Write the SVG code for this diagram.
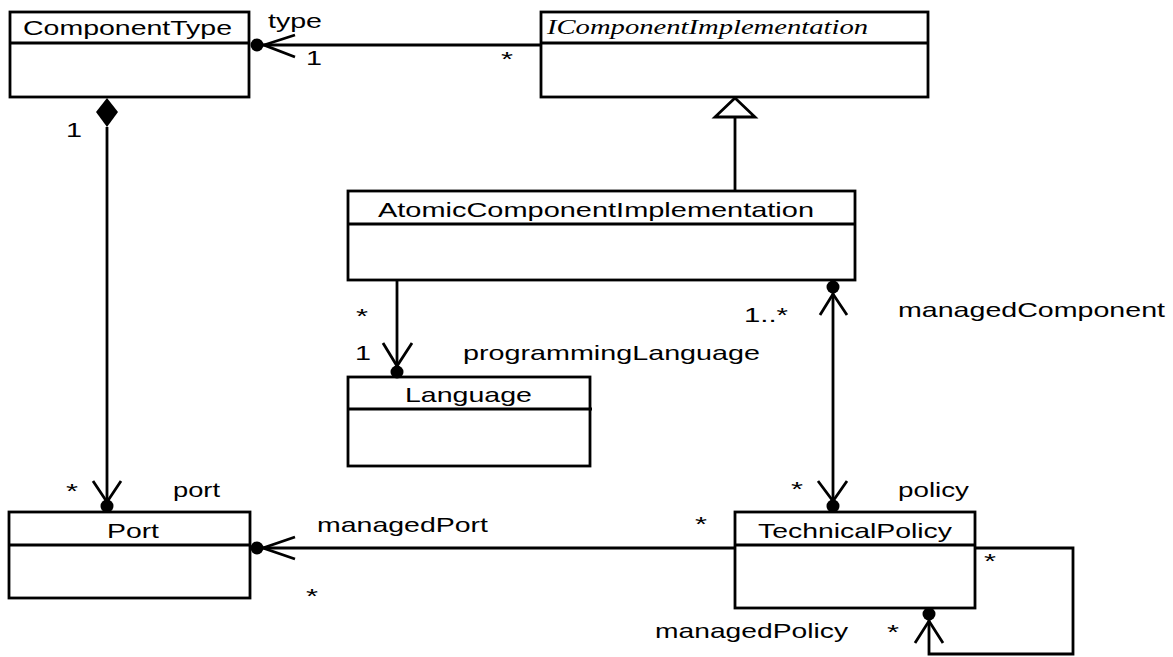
<svg xmlns="http://www.w3.org/2000/svg" width="1173" height="657" viewBox="0 0 1173 657">
<style>
.box{fill:#fff;stroke:#000;stroke-width:2.8}
.div{stroke:#000;stroke-width:2.8}
.ln{fill:none;stroke:#000;stroke-width:2.8}
.dot{fill:#000}
.t{font-family:"Liberation Sans",Arial,sans-serif;font-size:21px;fill:#000}
.ti{font-family:"Liberation Serif","Times New Roman",serif;font-style:italic;font-size:20px;fill:#000}
</style>
<rect width="1173" height="657" fill="#fff"/>
<g id="ComponentType">
<rect class="box" x="10" y="12" width="239" height="85"/>
<line class="div" x1="10" y1="43" x2="249" y2="43"/>
<text class="t" x="23" y="35" textLength="209" lengthAdjust="spacingAndGlyphs">ComponentType</text>
</g>
<g id="IComponentImplementation">
<rect class="box" x="541" y="12" width="387" height="85"/>
<line class="div" x1="541" y1="43" x2="928" y2="43"/>
<text class="ti" x="547" y="34" textLength="321" lengthAdjust="spacingAndGlyphs">IComponentImplementation</text>
</g>
<g id="AtomicComponentImplementation">
<rect class="box" x="348" y="191" width="507" height="89"/>
<line class="div" x1="348" y1="224" x2="856" y2="224"/>
<text class="t" x="378" y="217" textLength="436" lengthAdjust="spacingAndGlyphs">AtomicComponentImplementation</text>
</g>
<g id="Language">
<rect class="box" x="348" y="377" width="242" height="89"/>
<line class="div" x1="348" y1="409" x2="592" y2="409"/>
<text class="t" x="405" y="402" textLength="127" lengthAdjust="spacingAndGlyphs">Language</text>
</g>
<g id="Port">
<rect class="box" x="9" y="512" width="241" height="86"/>
<line class="div" x1="9" y1="545" x2="250" y2="545"/>
<text class="t" x="107" y="538" textLength="52" lengthAdjust="spacingAndGlyphs">Port</text>
</g>
<g id="TechnicalPolicy">
<rect class="box" x="735" y="512" width="240" height="96"/>
<line class="div" x1="735" y1="545" x2="976" y2="545"/>
<text class="t" x="758" y="538" textLength="194" lengthAdjust="spacingAndGlyphs">TechnicalPolicy</text>
</g>
<g id="connectors">
<line class="ln" x1="541" y1="45" x2="259" y2="45"/>
<circle class="dot" cx="257" cy="45" r="6.5"/>
<polyline class="ln" points="295,35 264,45 295,57"/>
<polygon points="107,98 118,112 107,127 96,112" fill="#000"/>
<line class="ln" x1="107" y1="127" x2="107" y2="504"/>
<circle class="dot" cx="107" cy="506" r="6.5"/>
<polyline class="ln" points="93,481 107,502 121,481"/>
<line class="ln" x1="735" y1="117" x2="735" y2="191"/>
<polygon points="735,98 755,117 715,117" fill="#fff" stroke="#000" stroke-width="2.8"/>
<line class="ln" x1="397" y1="280" x2="397" y2="372"/>
<circle class="dot" cx="397" cy="372" r="6.5"/>
<polyline class="ln" points="383,343 397,366 412,343"/>
<line class="ln" x1="833" y1="288" x2="833" y2="507"/>
<circle class="dot" cx="833" cy="287" r="6.5"/>
<polyline class="ln" points="820,315 833,294 847,315"/>
<circle class="dot" cx="833" cy="506" r="6.5"/>
<polyline class="ln" points="818,481 833,501 847,481"/>
<line class="ln" x1="735" y1="548" x2="258" y2="548"/>
<circle class="dot" cx="257" cy="548" r="6.5"/>
<polyline class="ln" points="295,537 263,548 295,559"/>
<polyline class="ln" points="975,548 1073,548 1073,654 929,654 929,616"/>
<circle class="dot" cx="929" cy="614" r="6.5"/>
<polyline class="ln" points="915,643 929,621 943,643"/>
</g>
<g id="labels">
<text class="t" x="268" y="28" textLength="54" lengthAdjust="spacingAndGlyphs">type</text>
<text class="t" x="306" y="65" textLength="16" lengthAdjust="spacingAndGlyphs">1</text>
<text class="t" x="501" y="66" textLength="12" lengthAdjust="spacingAndGlyphs">*</text>
<text class="t" x="66" y="137" textLength="16" lengthAdjust="spacingAndGlyphs">1</text>
<text class="t" x="66" y="498" textLength="12" lengthAdjust="spacingAndGlyphs">*</text>
<text class="t" x="173" y="497" textLength="47" lengthAdjust="spacingAndGlyphs">port</text>
<text class="t" x="356" y="323" textLength="12" lengthAdjust="spacingAndGlyphs">*</text>
<text class="t" x="355" y="360" textLength="16" lengthAdjust="spacingAndGlyphs">1</text>
<text class="t" x="463" y="360" textLength="297" lengthAdjust="spacingAndGlyphs">programmingLanguage</text>
<text class="t" x="744" y="322" textLength="44" lengthAdjust="spacingAndGlyphs">1..*</text>
<text class="t" x="898" y="317" textLength="267" lengthAdjust="spacingAndGlyphs">managedComponent</text>
<text class="t" x="791" y="496" textLength="12" lengthAdjust="spacingAndGlyphs">*</text>
<text class="t" x="898" y="497" textLength="71" lengthAdjust="spacingAndGlyphs">policy</text>
<text class="t" x="317" y="532" textLength="171" lengthAdjust="spacingAndGlyphs">managedPort</text>
<text class="t" x="695" y="531" textLength="12" lengthAdjust="spacingAndGlyphs">*</text>
<text class="t" x="306" y="603" textLength="12" lengthAdjust="spacingAndGlyphs">*</text>
<text class="t" x="984" y="568" textLength="12" lengthAdjust="spacingAndGlyphs">*</text>
<text class="t" x="887" y="639" textLength="12" lengthAdjust="spacingAndGlyphs">*</text>
<text class="t" x="655" y="638" textLength="193" lengthAdjust="spacingAndGlyphs">managedPolicy</text>
</g>
</svg>
